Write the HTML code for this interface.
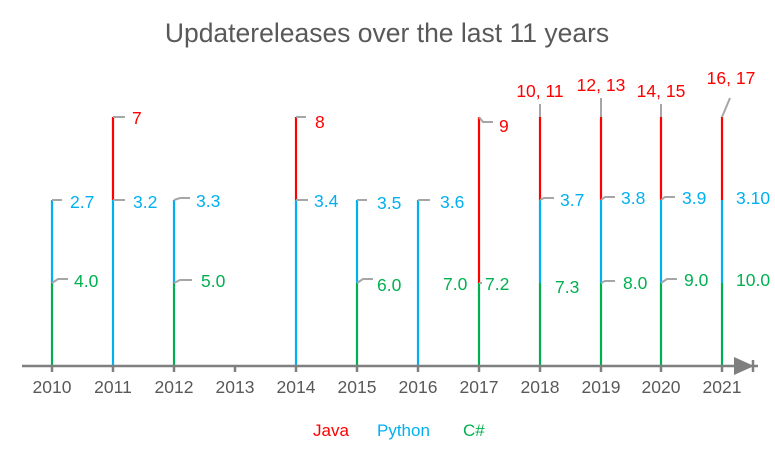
<!DOCTYPE html>
<html><head><meta charset="utf-8"><style>body{margin:0;background:#fff}svg{display:block}text{font-family:"Liberation Sans",sans-serif}</style></head><body>
<svg width="775" height="457" viewBox="0 0 775 457">
<text x="387" y="42" text-anchor="middle" font-size="26.5" fill="#595959">Updatereleases over the last 11 years</text>
<g stroke-width="2.2">
<g stroke="#00b050">
<line x1="52" y1="366" x2="52" y2="283"/><line x1="174" y1="366" x2="174" y2="283"/><line x1="357" y1="366" x2="357" y2="283"/><line x1="479" y1="366" x2="479" y2="283"/><line x1="540" y1="366" x2="540" y2="283"/><line x1="601" y1="366" x2="601" y2="283"/><line x1="661" y1="366" x2="661" y2="283"/><line x1="722" y1="366" x2="722" y2="283"/>
</g>
<g stroke="#00b0f0">
<line x1="52" y1="283" x2="52" y2="200"/><line x1="113" y1="366" x2="113" y2="200"/><line x1="174" y1="283" x2="174" y2="200"/><line x1="296" y1="366" x2="296" y2="200"/><line x1="357" y1="283" x2="357" y2="200"/><line x1="418" y1="366" x2="418" y2="200"/><line x1="540" y1="283" x2="540" y2="200"/><line x1="601" y1="283" x2="601" y2="200"/><line x1="661" y1="283" x2="661" y2="200"/><line x1="722" y1="283" x2="722" y2="200"/>
</g>
<g stroke="#ff0000">
<line x1="113" y1="200" x2="113" y2="117"/><line x1="296" y1="200" x2="296" y2="117"/><line x1="479" y1="283" x2="479" y2="117"/><line x1="540" y1="200" x2="540" y2="117"/><line x1="601" y1="200" x2="601" y2="117"/><line x1="661" y1="200" x2="661" y2="117"/><line x1="722" y1="200" x2="722" y2="117"/>
</g>
</g>
<g stroke="#a6a6a6" stroke-width="2" fill="none">
<path d="M52 200h10"/><path d="M52 283l6-4h10"/>
<path d="M113 117h12"/><path d="M113 200h12"/>
<path d="M174 200l6-2h10"/><path d="M174 283l6-3h12"/>
<path d="M296 117h10"/><path d="M296 200h12"/>
<path d="M357 200h10"/><path d="M357 283l6-4h10"/>
<path d="M418 200h12"/>
<path d="M479 117l4 5h10"/><path d="M479 283h3"/>
<path d="M540 117v-13"/><path d="M540 200l4-2h10"/>
<path d="M601 117v-19"/><path d="M601 200l4-3h10"/><path d="M601 283l4-2h10"/>
<path d="M661 117v-13"/><path d="M661 200l4-3h10"/><path d="M661 283l6-4h10"/>
<path d="M722 117l8-19"/>
</g>
<g font-size="17.5" fill="#ff0000">
<text x="132" y="124">7</text><text x="315" y="128">8</text><text x="499" y="132">9</text>
<text x="540" y="97" text-anchor="middle">10, 11</text><text x="601" y="91" text-anchor="middle">12, 13</text><text x="661" y="97" text-anchor="middle">14, 15</text><text x="731" y="84" text-anchor="middle">16, 17</text>
</g>
<g font-size="17.5" fill="#00b0f0">
<text x="70" y="208">2.7</text><text x="133" y="208">3.2</text><text x="196" y="207">3.3</text><text x="314" y="207">3.4</text><text x="377" y="209">3.5</text><text x="440" y="208">3.6</text><text x="560" y="206">3.7</text><text x="621" y="204">3.8</text><text x="682" y="204">3.9</text><text x="736" y="204">3.10</text>
</g>
<g font-size="17.5" fill="#00b050">
<text x="74" y="287">4.0</text><text x="201" y="287">5.0</text><text x="377" y="291">6.0</text><text x="443" y="290">7.0</text><text x="485" y="290">7.2</text><text x="555" y="293">7.3</text><text x="623" y="289">8.0</text><text x="684" y="286">9.0</text><text x="736" y="286">10.0</text>
</g>
<g stroke="#7f7f7f" stroke-width="2.5">
<line x1="22" y1="366" x2="758" y2="366"/>
<line x1="52" y1="366" x2="52" y2="372"/><line x1="113" y1="366" x2="113" y2="372"/><line x1="174" y1="366" x2="174" y2="372"/><line x1="235" y1="366" x2="235" y2="372"/><line x1="296" y1="366" x2="296" y2="372"/><line x1="357" y1="366" x2="357" y2="372"/><line x1="418" y1="366" x2="418" y2="372"/><line x1="479" y1="366" x2="479" y2="372"/><line x1="540" y1="366" x2="540" y2="372"/><line x1="601" y1="366" x2="601" y2="372"/><line x1="661" y1="366" x2="661" y2="372"/><line x1="722" y1="366" x2="722" y2="372"/>
<line x1="753" y1="360" x2="753" y2="372"/>
</g>
<path d="M734 357l20 9-20 9z" fill="#7f7f7f"/>
<g font-size="17.5" fill="#595959" text-anchor="middle">
<text x="52" y="393">2010</text><text x="113" y="393">2011</text><text x="174" y="393">2012</text><text x="235" y="393">2013</text><text x="296" y="393">2014</text><text x="357" y="393">2015</text><text x="418" y="393">2016</text><text x="479" y="393">2017</text><text x="540" y="393">2018</text><text x="601" y="393">2019</text><text x="661" y="393">2020</text><text x="722" y="393">2021</text>
</g>
<g font-size="17">
<text x="313" y="436" fill="#ff0000">Java</text><text x="377" y="436" fill="#00b0f0">Python</text><text x="463" y="436" fill="#00b050">C#</text>
</g>
</svg>
</body></html>
